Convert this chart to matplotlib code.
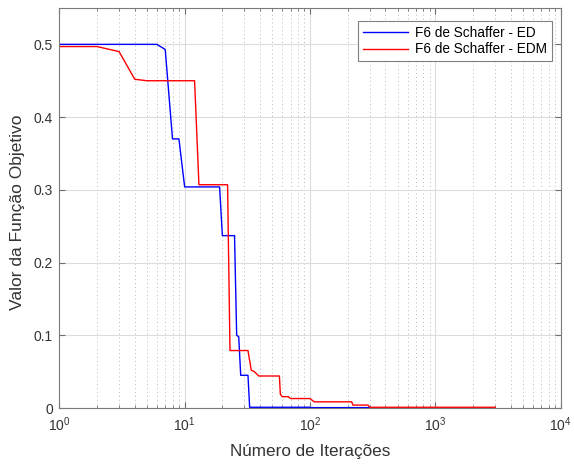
import matplotlib
matplotlib.use('Agg')
import matplotlib.pyplot as plt
from matplotlib.ticker import LogLocator, NullFormatter

plt.rcParams['font.family'] = ['Liberation Sans', 'DejaVu Sans']
plt.rcParams['mathtext.default'] = 'regular'

# F6 de Schaffer - ED (iteration, best value)
ed_iter = [1, 6, 7, 8, 9, 10, 19, 20, 25, 26, 27, 28, 32, 33, 100, 101, 300]
ed_val = [0.5, 0.5, 0.493, 0.37, 0.37, 0.304, 0.304, 0.237, 0.237, 0.100, 0.098,
          0.045, 0.045, 0.001, 0.001, 0.0005, 0.0005]

# F6 de Schaffer - EDM
edm_iter = [1, 2, 3, 4, 5, 12, 13, 22, 23, 32, 34, 36, 39, 57, 58, 60, 67, 70,
            100, 108, 215, 220, 290, 300, 3000]
edm_val = [0.497, 0.497, 0.490, 0.452, 0.450, 0.450, 0.307, 0.307, 0.079, 0.079,
           0.052, 0.050, 0.044, 0.044, 0.019, 0.0156, 0.0156, 0.013,
           0.013, 0.0085, 0.0085, 0.004, 0.004, 0.001, 0.001]

fig = plt.figure(figsize=(5.74, 4.67), dpi=100)
ax = fig.add_axes([59.3 / 574, 1 - 408 / 467, (560.7 - 59.3) / 574, 400 / 467])

ax.semilogx(ed_iter, ed_val, color='#0000ff', lw=1.0, label='F6 de Schaffer - ED')
ax.semilogx(edm_iter, edm_val, color='#ff0000', lw=1.0, label='F6 de Schaffer - EDM')

ax.set_xlim(1, 1e4)
ax.set_ylim(0, 0.55)
ax.set_yticks([0, 0.1, 0.2, 0.3, 0.4, 0.5])
ax.set_yticklabels(['0', '0.1', '0.2', '0.3', '0.4', '0.5'])
ax.xaxis.set_major_locator(LogLocator(base=10, numticks=10))
ax.xaxis.set_minor_locator(LogLocator(base=10, subs=range(2, 10), numticks=20))
ax.xaxis.set_minor_formatter(NullFormatter())

# grid: solid major, dotted minor
ax.grid(which='major', axis='both', color='#dcdcdc', linestyle='-', linewidth=0.8)
ax.grid(which='minor', axis='x', color='#b8b8b8', linestyle=(0, (1, 3)), linewidth=0.7)
ax.set_axisbelow(True)

ax.tick_params(which='both', direction='in', top=True, right=True,
               colors='#6e6e6e', labelcolor='#333333', labelsize=10)
ax.tick_params(which='major', length=4)
ax.tick_params(which='minor', length=2.5)
ax.tick_params(axis='x', which='major', pad=5)
ax.tick_params(axis='y', which='major', pad=4.5)
for s in ax.spines.values():
    s.set_color('#7a7a7a')
    s.set_linewidth(0.8)

ax.set_xlabel('Número de Iterações', fontsize=12.3, color='#333333')
ax.set_ylabel('Valor da Função Objetivo', fontsize=12.5, color='#333333')
ax.xaxis.set_label_coords(0.5, -0.109)
ax.xaxis.label.set_va('center')
ax.yaxis.set_label_coords(-0.084, 0.49)
ax.yaxis.label.set_va('center')

leg = ax.legend(loc='upper right', bbox_to_anchor=(0.982, 0.9675), borderaxespad=0,
                fontsize=9.8, handlelength=3.3, framealpha=1, fancybox=False,
                edgecolor='#808080', borderpad=0.35, labelspacing=0.2,
                handletextpad=0.5)
leg.get_frame().set_linewidth(0.8)

fig.savefig('out.png', dpi=100)
